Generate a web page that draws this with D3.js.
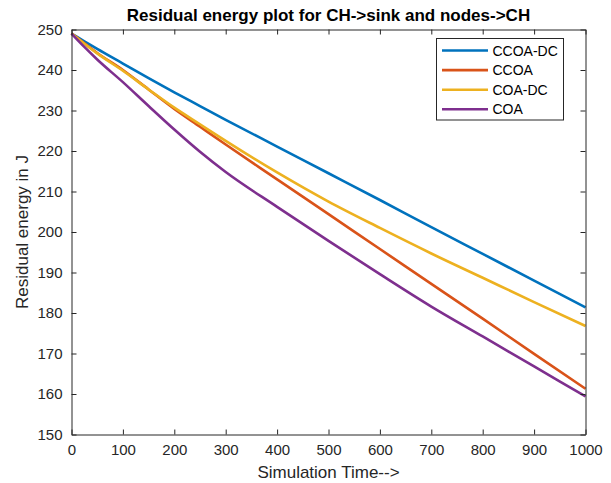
<!DOCTYPE html>
<html>
<head>
<meta charset="utf-8">
<script src="https://cdn.jsdelivr.net/npm/d3@7"></script>
<style>
html,body{margin:0;padding:0;background:#fff;}
svg{display:block;font-family:"Liberation Sans",Arial,Helvetica,sans-serif;}
</style>
</head>
<body>
<svg id="chart" width="611" height="483"></svg>
<script>
const time = [0, 25, 50, 100, 150, 200, 250, 300, 400, 500, 600, 700, 800, 900, 1000];
const ccoaDC = [249, 247.1, 245.2, 241.6, 238.0, 234.5, 231.1, 227.7, 221.1, 214.5, 207.9, 201.2, 194.6, 188.0, 181.4];
const ccoa   = [249, 246.6, 244.2, 240.0, 235.2, 230.4, 226.0, 221.6, 213.0, 204.4, 195.8, 187.2, 178.6, 169.9, 161.3];
const coaDC  = [249, 246.5, 244.1, 239.8, 235.2, 230.7, 226.6, 222.5, 214.7, 207.5, 201.0, 194.7, 188.7, 182.7, 176.8];
const coa    = [249, 245.7, 242.6, 237.0, 231.1, 225.3, 219.8, 214.8, 206.2, 197.8, 189.6, 181.6, 174.2, 166.8, 159.4];
const seriesNames = ["CCOA-DC", "CCOA", "COA-DC", "COA"];
const seriesValues = [ccoaDC, ccoa, coaDC, coa];
const colors = ["#0072BD", "#D95319", "#EDB120", "#7E2F8E"];
const xTicks = [0, 100, 200, 300, 400, 500, 600, 700, 800, 900, 1000];
const yTicks = [150, 160, 170, 180, 190, 200, 210, 220, 230, 240, 250];
const titleText = "Residual energy plot for CH->sink and nodes->CH";
const xLabel = "Simulation Time-->";
const yLabel = "Residual energy in J";

const svg = d3.select("#chart");
const L = 71.5, R = 585.5, T = 29.5, B = 434.5;
const x = d3.scaleLinear().domain([0, 1000]).range([L, R]);
const y = d3.scaleLinear().domain([150, 250]).range([B, T]);
const axisColor = "#262626";
const tickLen = 5;

// lines
const line = d3.line().x((d, i) => x(time[i])).y(d => y(d)).curve(d3.curveMonotoneX);
const plot = svg.append("g");
seriesValues.forEach((vals, k) => {
  plot.append("path").datum(vals)
    .attr("d", line)
    .attr("fill", "none")
    .attr("stroke", colors[k])
    .attr("stroke-width", 2.6)
    .attr("stroke-linejoin", "round");
});

// axes
const fmt = d3.format("d");
const xAxisB = d3.axisBottom(x).tickValues(xTicks).tickFormat(fmt).tickSizeInner(-tickLen).tickSizeOuter(0).tickPadding(10);
const xAxisT = d3.axisTop(x).tickValues(xTicks).tickSizeInner(-tickLen).tickSizeOuter(0).tickFormat("");
const yAxisL = d3.axisLeft(y).tickValues(yTicks).tickFormat(fmt).tickSizeInner(-tickLen).tickSizeOuter(0).tickPadding(9);
const yAxisR = d3.axisRight(y).tickValues(yTicks).tickSizeInner(-tickLen).tickSizeOuter(0).tickFormat("");

function style(g) {
  g.attr("font-family", null).attr("font-size", null);
  g.select(".domain").attr("stroke", axisColor).attr("stroke-width", 1);
  g.selectAll(".tick line").attr("stroke", axisColor).attr("stroke-width", 1);
  g.selectAll(".tick text").attr("fill", axisColor).style("font-size", "15px");
}
svg.append("g").attr("transform", `translate(0,${B})`).call(xAxisB).call(style);
svg.append("g").attr("transform", `translate(0,${T})`).call(xAxisT).call(style);
svg.append("g").attr("transform", `translate(${L},0)`).call(yAxisL).call(style);
svg.append("g").attr("transform", `translate(${R},0)`).call(yAxisR).call(style);

// title and labels
svg.append("text").attr("x", (L + R) / 2).attr("y", 21).attr("text-anchor", "middle")
  .style("font-size", "17px").style("font-weight", "bold").attr("fill", "#000").text(titleText);
svg.append("text").attr("x", (L + R) / 2).attr("y", 478).attr("text-anchor", "middle")
  .style("font-size", "17px").attr("fill", axisColor).text(xLabel);
svg.append("text").attr("transform", `translate(28,${(T + B) / 2}) rotate(-90)`).attr("text-anchor", "middle")
  .style("font-size", "17px").attr("fill", axisColor).text(yLabel);

// legend
const lg = svg.append("g");
lg.append("rect").attr("x", 436.5).attr("y", 38.5).attr("width", 127).attr("height", 81.5)
  .attr("fill", "#fff").attr("stroke", axisColor).attr("stroke-width", 1);
seriesNames.forEach((name, k) => {
  const yy = 50.5 + k * 19.6;
  lg.append("line").attr("x1", 442).attr("x2", 488).attr("y1", yy).attr("y2", yy)
    .attr("stroke", colors[k]).attr("stroke-width", 2.6);
  lg.append("text").attr("x", 492.5).attr("y", yy + 5).style("font-size", "14px")
    .attr("fill", "#000").text(name);
});
</script>
</body>
</html>
